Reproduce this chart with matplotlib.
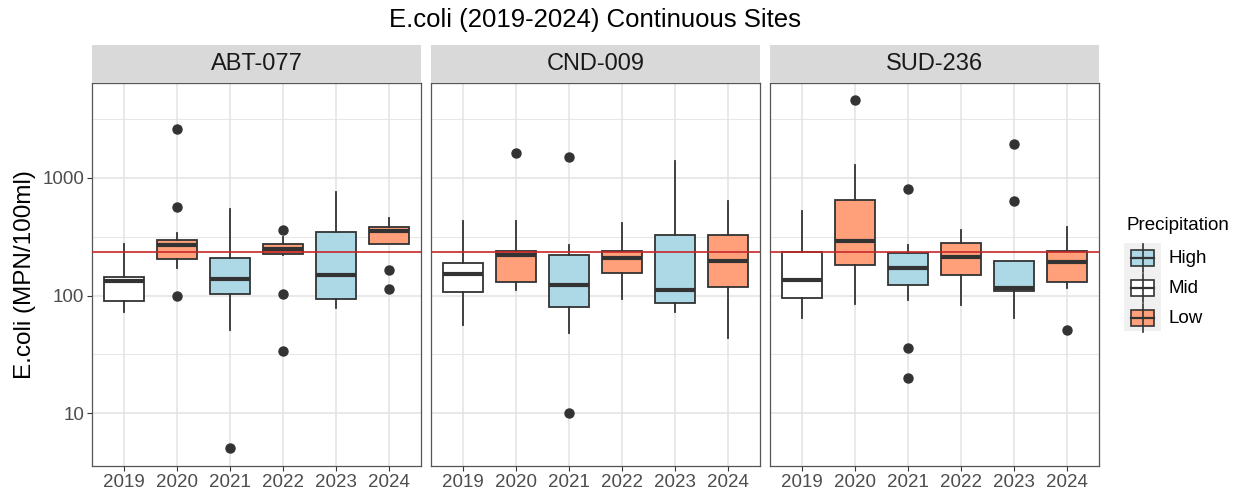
import numpy as np
import matplotlib.pyplot as plt
from matplotlib.patches import Rectangle
from matplotlib.ticker import FixedLocator, NullFormatter

sites = ['ABT-077', 'CND-009', 'SUD-236']
years = ['2019', '2020', '2021', '2022', '2023', '2024']
precip = ['Mid', 'Low', 'High', 'Low', 'High', 'Low']
threshold = 235

# box summaries per site: lower whisker, q1, median, q3, upper whisker
abt_whislo = [72, 171, 50.6, 222, 78, 275]
abt_q1 = [90, 204, 103, 226, 94, 275]
abt_med = [132, 270, 137, 248, 150, 352]
abt_q3 = [144, 297, 207, 275, 343, 385]
abt_whishi = [275, 339, 540, 311, 752, 453]
abt_fliers = [[], [2612, 565, 100], [5.06], [361, 104, 34], [], [166, 113]]

cnd_whislo = [56, 111, 48, 94, 72, 44]
cnd_q1 = [107, 130, 80, 156, 86, 118]
cnd_med = [152, 221, 124, 208, 112, 195]
cnd_q3 = [189, 237, 222, 237, 324, 324]
cnd_whishi = [425, 433, 266, 411, 1392, 640]
cnd_fliers = [[], [1626], [1485, 10], [], [], []]

sud_whislo = [65, 84, 91, 83, 64, 116]
sud_q1 = [95.5, 183, 122, 150, 109, 129]
sud_med = [136, 288, 171, 212, 116, 191]
sud_q3 = [234, 647, 230, 279, 195, 237]
sud_whishi = [526, 1280, 270, 361, 195, 378]
sud_fliers = [[], [4529], [796, 36, 20], [], [1950, 640], [51]]

site_data = [
    (abt_whislo, abt_q1, abt_med, abt_q3, abt_whishi, abt_fliers),
    (cnd_whislo, cnd_q1, cnd_med, cnd_q3, cnd_whishi, cnd_fliers),
    (sud_whislo, sud_q1, sud_med, sud_q3, sud_whishi, sud_fliers),
]

colors = {'High': '#ADD8E6', 'Mid': '#FFFFFF', 'Low': '#FFA07A'}
edge = '#333333'
grid_c = '#E3E3E3'

fig = plt.figure(figsize=(12.41, 4.9), dpi=100)
plt.rcParams['font.family'] = ['Liberation Sans', 'DejaVu Sans']

lefts = [92, 431, 770]
pw, W, H = 329, 1241, 490
bottom_px, top_px, strip_px = 466, 83, 45

for i, site in enumerate(sites):
    ax = fig.add_axes([lefts[i] / W, (H - bottom_px) / H, pw / W, (bottom_px - top_px) / H])
    wlo, q1, med, q3, whi, fl = site_data[i]
    stats = []
    for j in range(len(years)):
        stats.append(dict(whislo=wlo[j], q1=q1[j], med=med[j], q3=q3[j], whishi=whi[j],
                          fliers=fl[j], label=years[j]))
    pos = np.arange(1, len(years) + 1)
    bp = ax.bxp(stats, positions=pos, widths=0.75, patch_artist=True, showcaps=False,
                boxprops=dict(edgecolor=edge, linewidth=1.3),
                whiskerprops=dict(color=edge, linewidth=1.3),
                medianprops=dict(color=edge, linewidth=3),
                flierprops=dict(marker='o', markerfacecolor=edge, markeredgecolor=edge,
                                markersize=6.5))
    for box, p in zip(bp['boxes'], precip):
        box.set_facecolor(colors[p])
    for line in bp['medians']:
        line.set_solid_capstyle('butt')
    for box in bp['boxes'] + bp['whiskers'] + bp['medians'] + bp['fliers']:
        box.set_zorder(3)

    ax.axhline(threshold, color='#C62828', linewidth=1.2, zorder=4)

    ax.set_yscale('log')
    ax.set_ylim(3.57, 6370)
    ax.set_xlim(0.4, 6.6)
    ax.yaxis.set_major_locator(FixedLocator([10, 100, 1000]))
    ax.yaxis.set_minor_locator(FixedLocator([10 ** 0.5, 10 ** 1.5, 10 ** 2.5, 10 ** 3.5]))
    ax.yaxis.set_minor_formatter(NullFormatter())
    ax.set_yticklabels(['10', '100', '1000'])
    ax.grid(True, which='major', color=grid_c, linewidth=1.1, zorder=0)
    ax.grid(True, which='minor', axis='y', color=grid_c, linewidth=0.6, zorder=0)
    ax.set_axisbelow(True)
    ax.tick_params(axis='both', which='major', colors='#333333', labelcolor='#4D4D4D',
                   labelsize=13.5, length=3.5, width=0.8, pad=2)
    ax.tick_params(axis='y', which='minor', length=0)
    if i > 0:
        ax.tick_params(axis='y', which='major', left=False, labelleft=False)
    for s in ax.spines.values():
        s.set_color('#555555')
        s.set_linewidth(0.9)

    # facet strip
    sax = fig.add_axes([lefts[i] / W, (H - top_px) / H, pw / W, (top_px - strip_px) / H])
    sax.set_xticks([])
    sax.set_yticks([])
    sax.set_facecolor('#D9D9D9')
    for s in sax.spines.values():
        s.set_visible(False)
    sax.text(0.5, 0.5, site, ha='center', va='center', fontsize=17, color='#1A1A1A',
             transform=sax.transAxes)

    if i == 0:
        ax.set_ylabel('E.coli (MPN/100ml)', fontsize=17.5, color='black', labelpad=5)

fig.text(595 / W, 1 - 20 / H, 'E.coli (2019-2024) Continuous Sites', ha='center', va='center',
         fontsize=18.5, color='black')

# legend drawn on its own axes, keys styled as little boxplots
lax = fig.add_axes([1110 / W, 0, 131 / W, 1])
lax.set_xlim(1110, 1241)
lax.set_ylim(H, 0)
lax.axis('off')
lax.text(1127, 225, 'Precipitation', fontsize=13.5, va='center', ha='left', color='black')
order = ['High', 'Mid', 'Low']
key_y = [258, 288, 318]
lax.add_patch(Rectangle((1124, 243), 37, 88, facecolor='#F0F0F0', edgecolor='none'))
for lab, y in zip(order, key_y):
    lax.plot([1143, 1143], [y - 14, y + 14], color=edge, linewidth=1.2)
    lax.add_patch(Rectangle((1131, y - 8), 23, 16, facecolor=colors[lab], edgecolor=edge,
                            linewidth=1.2))
    lax.plot([1131, 1154], [y, y], color=edge, linewidth=1.6)
    lax.text(1168, y, lab, fontsize=13.5, va='center', ha='left', color='black')

fig.savefig('out.png', dpi=100)
